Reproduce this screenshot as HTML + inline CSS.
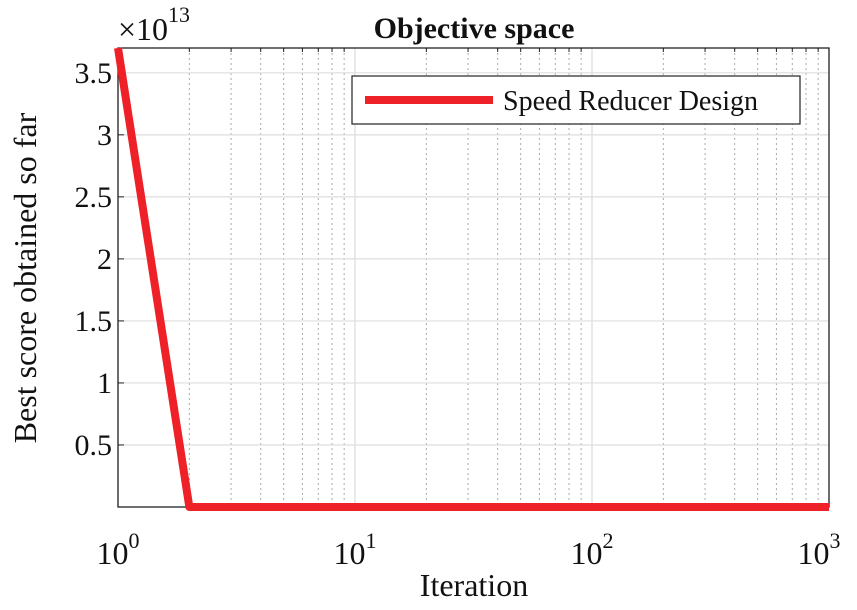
<!DOCTYPE html>
<html><head><meta charset="utf-8"><style>
body{margin:0;background:#fff;width:857px;height:605px;overflow:hidden}
svg text{font-family:"Liberation Serif",serif;fill:#111}
</style></head><body>
<svg id="chart" width="857" height="605" xmlns="http://www.w3.org/2000/svg">
<g id="grid"></g>
<g id="axes"></g>
<g id="series"></g>
<text x="474" y="38" text-anchor="middle" font-size="30" font-weight="bold">Objective space</text>
<text x="474" y="596" text-anchor="middle" font-size="32">Iteration</text>
<text transform="translate(36,278) rotate(-90)" text-anchor="middle" font-size="32">Best score obtained so far</text>
<text x="118" y="40" font-size="32">×10<tspan dy="-18" font-size="22">13</tspan></text>
<g>
<rect x="352" y="76" width="448" height="48" fill="#fff" stroke="#222" stroke-width="1.2"/>
<line x1="365" y1="100" x2="493" y2="100" stroke="#ee2028" stroke-width="8"/>
<text x="503" y="110" font-size="28">Speed Reducer Design</text>
</g>
</svg>
<script>
const iterations=[1,2,1000];
const bestScores=[3.7e13,0,0];
const yTicks=[0.5e13,1e13,1.5e13,2e13,2.5e13,3e13,3.5e13];
const yTickLabels=["0.5","1","1.5","2","2.5","3","3.5"];
const xDecades=[0,1,2,3];
const L=118,R=829,T=48,B=507,YMAX=3.7e13;
const sx=v=>L+(Math.log10(v)-0)/3*(R-L);
const sy=v=>B-v/YMAX*(B-T);
const NS="http://www.w3.org/2000/svg";
function mk(tag,attrs,parent){const e=document.createElementNS(NS,tag);for(const k in attrs)e.setAttribute(k,attrs[k]);parent.appendChild(e);return e;}
const grid=document.getElementById('grid'),axes=document.getElementById('axes'),series=document.getElementById('series');
for(let d=0;d<3;d++)for(let m=2;m<=9;m++){const x=sx(m*Math.pow(10,d));
const g=mk('line',{x1:x,x2:x,y1:T,y2:B,stroke:'#aaa','stroke-width':1,'stroke-dasharray':'2,3'},grid);


const t=mk('line',{x1:x,x2:x,y1:T,y2:T+4,stroke:'#222','stroke-width':1},axes);

}
xDecades.forEach(d=>{const x=sx(Math.pow(10,d));
const g=mk('line',{x1:x,x2:x,y1:T,y2:B,stroke:'#ddd','stroke-width':1.2},grid);


const t=mk('text',{x:x+(d==3?-10:0),y:564,'text-anchor':'middle','font-size':32},axes);


t.innerHTML='10<tspan dy="-16" font-size="22">'+d+'</tspan>';});
yTicks.forEach((v,i)=>{const y=sy(v);
const g=mk('line',{x1:L,x2:R,y1:y,y2:y,stroke:'#ddd','stroke-width':1.2},grid);


mk('line',{x1:L,x2:L+6,y1:y,y2:y,stroke:'#222'},axes);
const t=mk('text',{x:L-6,y:y+10,'text-anchor':'end','font-size':30},axes);


t.textContent=yTickLabels[i];});
const box=mk('rect',{x:L,y:T,width:R-L,height:B-T,fill:'none',stroke:'#222','stroke-width':1.3},axes);


const pts=iterations.map((it,i)=>sx(it)+','+sy(bestScores[i])).join(' ');
const line=mk('polyline',{points:pts,fill:'none',stroke:'#ee2028','stroke-width':8,'stroke-linejoin':'round'},series);


</script>
</body></html>
